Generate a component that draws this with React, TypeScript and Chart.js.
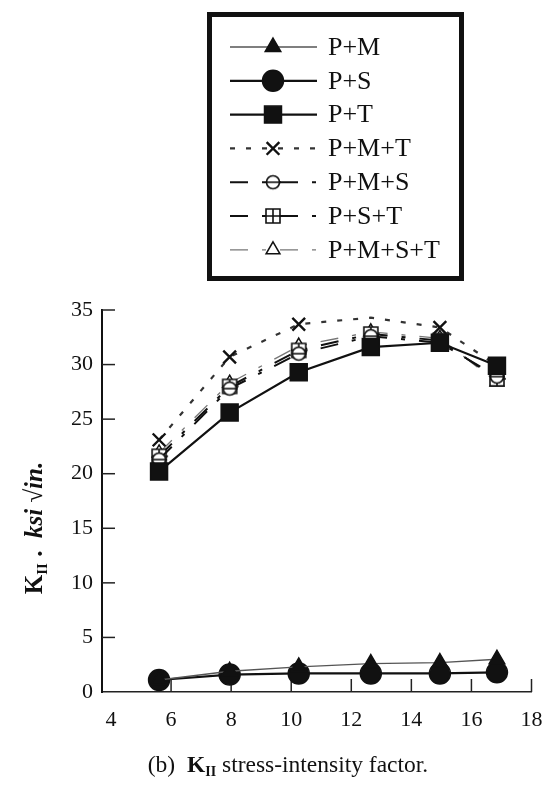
import React, { useEffect, useRef } from "react";
import { Chart, registerables } from "chart.js";

Chart.register(...registerables);

// ---- data ----
const xValues = [5.6, 7.95, 10.25, 12.65, 14.95, 16.85];
const seriesNames = ["P+M", "P+S", "P+T", "P+M+T", "P+M+S", "P+S+T", "P+M+S+T"];
const pM = [1.1, 1.9, 2.3, 2.6, 2.7, 3.0];
const pS = [1.1, 1.6, 1.7, 1.7, 1.7, 1.8];
const pT = [20.2, 25.6, 29.3, 31.6, 32.0, 29.9];
const pMT = [23.1, 30.7, 33.7, 34.3, 33.4, 29.9];
const pMS = [21.3, 27.8, 31.0, 32.6, 32.0, 28.9];
const pST = [21.6, 28.0, 31.3, 32.8, 32.2, 28.7];
const pMST = [21.9, 28.3, 31.7, 33.0, 32.4, 28.4];
const xTicks = [4, 6, 8, 10, 12, 14, 16, 18];
const yTicks = [0, 5, 10, 15, 20, 25, 30, 35];
const yTitleParts = ["K", "II", " .  ", "ksi ", "\u221Ain."];
const captionPrefix = "(b)";
const captionRest = " stress-intensity factor.";

const SERIF = '"Liberation Serif", "Times New Roman", serif';

function makeMarker(kind: string): HTMLCanvasElement {
  const c = document.createElement("canvas");
  c.width = 20;
  c.height = 20;
  const g = c.getContext("2d")!;
  g.strokeStyle = "#111";
  g.fillStyle = "#fff";
  g.lineWidth = 1.6;
  if (kind === "circleBar") {
    g.beginPath();
    g.arc(10, 10, 6.5, 0, Math.PI * 2);
    g.fill();
    g.stroke();
    g.beginPath();
    g.moveTo(3, 10);
    g.lineTo(18, 10);
    g.stroke();
  } else {
    g.beginPath();
    g.rect(3, 3, 14, 14);
    g.fill();
    g.stroke();
    g.beginPath();
    g.moveTo(10, 3);
    g.lineTo(10, 17);
    g.moveTo(3, 10);
    g.lineTo(19, 10);
    g.stroke();
  }
  return c;
}

function drawMarker(ctx: CanvasRenderingContext2D, ds: any, x: number, y: number) {
  const style = ds.pointStyle;
  const r = Array.isArray(ds.pointRadius) ? ds.pointRadius[0] : ds.pointRadius;
  ctx.save();
  ctx.setLineDash([]);
  ctx.lineWidth = ds.pointBorderWidth ?? 1.5;
  ctx.strokeStyle = ds.pointBorderColor ?? "#111";
  ctx.fillStyle = ds.pointBackgroundColor ?? "#111";
  if (typeof style !== "string") {
    ctx.drawImage(style, x - style.width / 2, y - style.height / 2);
  } else if (style === "circle") {
    ctx.beginPath();
    ctx.arc(x, y, r, 0, Math.PI * 2);
    ctx.fill();
    ctx.stroke();
  } else if (style === "rect") {
    const s = r * Math.SQRT1_2;
    ctx.beginPath();
    ctx.rect(x - s, y - s, 2 * s, 2 * s);
    ctx.fill();
    ctx.stroke();
  } else if (style === "triangle") {
    ctx.beginPath();
    for (let k = 0; k < 3; k++) {
      const a = -Math.PI / 2 + (k * 2 * Math.PI) / 3;
      const px = x + Math.cos(a) * r;
      const py = y + Math.sin(a) * r;
      if (k === 0) ctx.moveTo(px, py);
      else ctx.lineTo(px, py);
    }
    ctx.closePath();
    ctx.fill();
    ctx.stroke();
  } else if (style === "crossRot") {
    const s = r * Math.SQRT1_2;
    ctx.beginPath();
    ctx.moveTo(x - s, y - s);
    ctx.lineTo(x + s, y + s);
    ctx.moveTo(x - s, y + s);
    ctx.lineTo(x + s, y - s);
    ctx.stroke();
  }
  ctx.restore();
}

const decorPlugin = {
  id: "decor",
  beforeDatasetsDraw(chart: any) {
    const ctx = chart.ctx as CanvasRenderingContext2D;
    const { left, bottom } = chart.chartArea;
    const xs = chart.scales.x;
    const ys = chart.scales.y;
    ctx.save();
    ctx.strokeStyle = "#222";
    ctx.lineWidth = 1.5;
    yTicks.forEach((v) => {
      if (v === 0) return;
      const py = ys.getPixelForValue(v);
      ctx.beginPath();
      ctx.moveTo(left, py);
      ctx.lineTo(left + 13, py);
      ctx.stroke();
    });
    xTicks.forEach((v) => {
      if (v === xTicks[0]) return;
      const px = xs.getPixelForValue(v);
      ctx.beginPath();
      ctx.moveTo(px, bottom);
      ctx.lineTo(px, bottom - 13);
      ctx.stroke();
    });
    ctx.restore();
  },
  afterDraw(chart: any) {
    const ctx = chart.ctx as CanvasRenderingContext2D;
    ctx.save();
    // legend box
    ctx.strokeStyle = "#111";
    ctx.lineWidth = 5;
    ctx.strokeRect(209.5, 14.5, 252, 264);
    chart.data.datasets.forEach((ds: any, i: number) => {
      const y = 47 + i * 33.8;
      ctx.save();
      ctx.strokeStyle = ds.borderColor;
      ctx.lineWidth = ds.borderWidth;
      ctx.setLineDash(ds.borderDash || []);
      ctx.beginPath();
      ctx.moveTo(230, y);
      ctx.lineTo(317, y);
      ctx.stroke();
      ctx.restore();
      drawMarker(ctx, ds, 273, y);
      ctx.fillStyle = "#111";
      ctx.font = `26px ${SERIF}`;
      ctx.textBaseline = "middle";
      ctx.textAlign = "left";
      ctx.fillText(ds.label, 328, y + 1);
    });
    // y axis title
    ctx.translate(33, 528);
    ctx.rotate(-Math.PI / 2);
    const fonts = [
      `bold 25px ${SERIF}`,
      `bold 15px ${SERIF}`,
      `bold 25px ${SERIF}`,
      `italic bold 25px ${SERIF}`,
      `italic bold 25px ${SERIF}`,
    ];
    const dys = [0, 5, 0, 0, 0];
    let total = 0;
    const widths = yTitleParts.map((t, k) => {
      ctx.font = fonts[k];
      const w = ctx.measureText(t).width;
      total += w;
      return w;
    });
    let cx = -total / 2;
    ctx.fillStyle = "#111";
    ctx.textBaseline = "alphabetic";
    ctx.textAlign = "left";
    yTitleParts.forEach((t, k) => {
      ctx.font = fonts[k];
      ctx.fillText(t, cx, 9 + dys[k]);
      cx += widths[k];
    });
    ctx.restore();
  },
};

export default function App() {
  const ref = useRef<HTMLCanvasElement | null>(null);

  useEffect(() => {
    if (!ref.current) return;
    const circleBar = makeMarker("circleBar");
    const squarePlus = makeMarker("squarePlus");
    const pts = (arr: number[]) => xValues.map((x, i) => ({ x, y: arr[i] }));
    const base = {
      pointBorderColor: "#111",
      pointBorderWidth: 1.5,
      tension: 0,
      fill: false,
    };
    const chart = new Chart(ref.current, {
      type: "line",
      data: {
        datasets: [
          {
            ...base,
            label: seriesNames[0],
            data: pts(pM),
            borderColor: "#555",
            borderWidth: 1.3,
            borderDash: [],
            pointStyle: "triangle",
            pointRadius: 9,
            pointBackgroundColor: "#111",
          },
          {
            ...base,
            label: seriesNames[1],
            data: pts(pS),
            borderColor: "#111",
            borderWidth: 2.2,
            borderDash: [],
            pointStyle: "circle",
            pointRadius: 10.5,
            pointBackgroundColor: "#111",
          },
          {
            ...base,
            label: seriesNames[2],
            data: pts(pT),
            borderColor: "#111",
            borderWidth: 2.2,
            borderDash: [],
            pointStyle: "rect",
            pointRadius: 12,
            pointBackgroundColor: "#111",
          },
          {
            ...base,
            label: seriesNames[3],
            data: pts(pMT),
            borderColor: "#333",
            borderWidth: 2.2,
            borderDash: [5, 11],
            pointStyle: "crossRot",
            pointRadius: [9, 9, 9, 0, 9, 9],
            pointBorderWidth: 2.4,
            pointBackgroundColor: "#111",
          },
          {
            ...base,
            label: seriesNames[4],
            data: pts(pMS),
            borderColor: "#111",
            borderWidth: 2,
            borderDash: [18, 14, 4, 14],
            pointStyle: circleBar,
            pointRadius: 8,
            pointBackgroundColor: "#fff",
          },
          {
            ...base,
            label: seriesNames[5],
            data: pts(pST),
            borderColor: "#111",
            borderWidth: 2,
            borderDash: [18, 14, 4, 14],
            pointStyle: squarePlus,
            pointRadius: 8,
            pointBackgroundColor: "#fff",
          },
          {
            ...base,
            label: seriesNames[6],
            data: pts(pMST),
            borderColor: "#777",
            borderWidth: 1.3,
            borderDash: [18, 14, 4, 14],
            pointStyle: "triangle",
            pointRadius: 8,
            pointBackgroundColor: "#fff",
          },
        ] as any,
      },
      options: {
        animation: false,
        responsive: false,
        devicePixelRatio: 1,
        layout: { padding: { top: 310, right: 13, left: 0, bottom: 0 } },
        plugins: {
          legend: { display: false },
          tooltip: { enabled: false },
          title: { display: false },
        },
        scales: {
          x: {
            type: "linear",
            min: 3.7,
            max: 18,
            afterBuildTicks: (s: any) => {
              s.ticks = xTicks.map((v) => ({ value: v }));
            },
            afterFit: (s: any) => {
              s.height = 96;
              s.paddingLeft = 0;
              s.paddingRight = 0;
            },
            grid: { display: false, drawTicks: false },
            border: { display: true, color: "#222", width: 1.5 },
            ticks: {
              padding: 15,
              color: "#111",
              font: { family: SERIF, size: 22 },
              callback: (v: any) => String(v),
            },
          },
          y: {
            type: "linear",
            min: 0,
            max: 35,
            afterBuildTicks: (s: any) => {
              s.ticks = yTicks.map((v) => ({ value: v }));
            },
            afterFit: (s: any) => {
              s.width = 102;
              s.paddingTop = 0;
              s.paddingBottom = 0;
            },
            grid: { display: false, drawTicks: false },
            border: { display: true, color: "#111", width: 2 },
            ticks: {
              padding: 9,
              color: "#111",
              font: { family: SERIF, size: 22 },
              callback: (v: any) => String(v),
            },
          },
        },
      } as any,
      plugins: [decorPlugin],
    });
    return () => chart.destroy();
  }, []);

  return (
    <div style={{ position: "absolute", left: 0, top: 0, width: 545, height: 788, background: "#fff" }}>
      <canvas ref={ref} width={545} height={788} style={{ position: "absolute", left: 0, top: 0, width: 545, height: 788 }} />
      <div
        style={{
          position: "absolute",
          left: 0,
          width: 576,
          top: 750,
          textAlign: "center",
          fontFamily: SERIF,
          fontSize: 23.5,
          lineHeight: "28px",
          color: "#111",
          whiteSpace: "pre",
        }}
      >
        {captionPrefix + "  "}
        <b>K</b>
        <sub style={{ fontSize: 14, verticalAlign: "-4px", lineHeight: 0, fontWeight: "bold" }}>II</sub>
        {captionRest}
      </div>
    </div>
  );
}
